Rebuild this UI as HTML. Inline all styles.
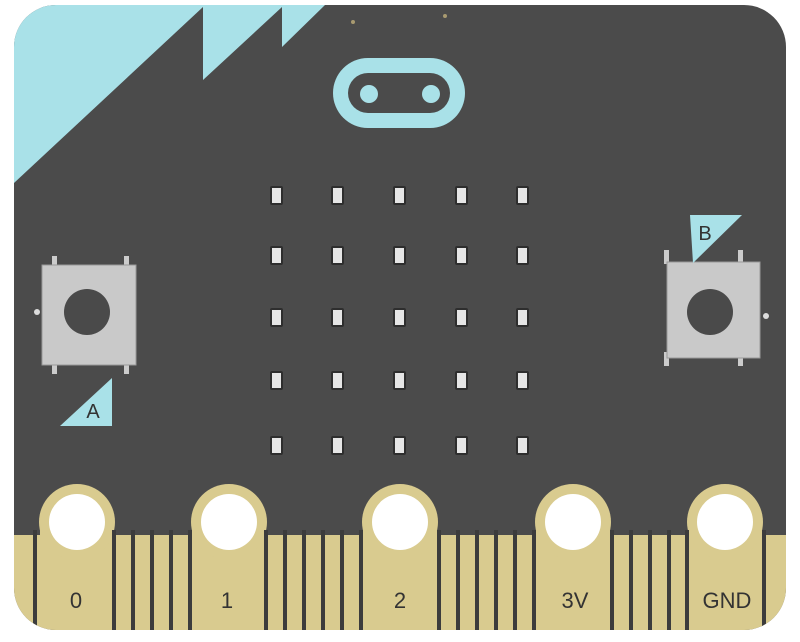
<!DOCTYPE html>
<html><head><style>
html,body{margin:0;padding:0;background:#fff;}
svg{display:block;}
text{font-family:"Liberation Sans",sans-serif;}
</style></head><body>
<svg width="800" height="642" viewBox="0 0 800 642" xmlns="http://www.w3.org/2000/svg">
<defs>
<clipPath id="b"><rect x="14" y="5" width="772" height="625" rx="42"/></clipPath>
</defs>
<g clip-path="url(#b)">
<rect x="0" y="0" width="800" height="642" fill="#4b4b4b"/>
<polygon points="0,0 340,0 325,5 282,47 282,7 203,80 203,7 14,183 0,200" fill="#a9e1e8"/>
<!-- gold connector -->
<rect x="14" y="535" width="772" height="100" fill="#d9cb8f"/>
<g fill="#d9cb8f">
<circle cx="77" cy="522" r="38"/><rect x="40" y="522" width="74" height="20"/>
<circle cx="229" cy="522" r="38"/><rect x="192" y="522" width="74" height="20"/>
<circle cx="400" cy="522" r="38"/><rect x="363" y="522" width="74" height="20"/>
<circle cx="573" cy="522" r="38"/><rect x="536" y="522" width="74" height="20"/>
<circle cx="725" cy="522" r="38"/><rect x="688" y="522" width="74" height="20"/>
</g>
<g stroke="#3c3c3c" stroke-width="4">
<line x1="35" y1="530" x2="35" y2="630"/>
<line x1="114" y1="530" x2="114" y2="630"/><line x1="133" y1="530" x2="133" y2="630"/><line x1="152" y1="530" x2="152" y2="630"/><line x1="171" y1="530" x2="171" y2="630"/><line x1="190" y1="530" x2="190" y2="630"/>
<line x1="266" y1="530" x2="266" y2="630"/><line x1="285" y1="530" x2="285" y2="630"/><line x1="304" y1="530" x2="304" y2="630"/><line x1="323" y1="530" x2="323" y2="630"/><line x1="342" y1="530" x2="342" y2="630"/><line x1="361" y1="530" x2="361" y2="630"/>
<line x1="439" y1="530" x2="439" y2="630"/><line x1="458" y1="530" x2="458" y2="630"/><line x1="477" y1="530" x2="477" y2="630"/><line x1="496" y1="530" x2="496" y2="630"/><line x1="515" y1="530" x2="515" y2="630"/><line x1="534" y1="530" x2="534" y2="630"/>
<line x1="612" y1="530" x2="612" y2="630"/><line x1="631" y1="530" x2="631" y2="630"/><line x1="650" y1="530" x2="650" y2="630"/><line x1="669" y1="530" x2="669" y2="630"/><line x1="687" y1="530" x2="687" y2="630"/>
<line x1="764" y1="530" x2="764" y2="630"/>
</g>
<g fill="#fff">
<circle cx="77" cy="522" r="28"/><circle cx="229" cy="522" r="28"/><circle cx="400" cy="522" r="28"/><circle cx="573" cy="522" r="28"/><circle cx="725" cy="522" r="28"/>
</g>
</g>
<g fill="#333" font-size="22" text-anchor="middle">
<text x="76" y="608">0</text><text x="227" y="608">1</text><text x="400" y="608">2</text><text x="575" y="608">3V</text><text x="727" y="608">GND</text>
</g>
<!-- logo -->
<rect x="333" y="58" width="132" height="70" rx="35" fill="#a9e1e8"/>
<rect x="348" y="73" width="102" height="40" rx="20" fill="#4b4b4b"/>
<circle cx="369" cy="94" r="9" fill="#a9e1e8"/><circle cx="431" cy="94" r="9" fill="#a9e1e8"/>
<circle cx="353" cy="22" r="2" fill="#a89a70"/><circle cx="445" cy="16" r="2" fill="#a89a70"/>
<!-- LEDs -->
<g fill="#e6e6e6" stroke="#2e2e2e" stroke-width="2">
<g id="r"><rect x="271" y="187" width="11" height="17" rx="1"/><rect x="332" y="187" width="11" height="17" rx="1"/><rect x="394" y="187" width="11" height="17" rx="1"/><rect x="456" y="187" width="11" height="17" rx="1"/><rect x="517" y="187" width="11" height="17" rx="1"/></g>
<use href="#r" y="60"/><use href="#r" y="122"/><use href="#r" y="185"/><use href="#r" y="250"/>
</g>
<!-- button A -->
<g>
<rect x="52" y="256" width="5" height="14" fill="#ccc"/><rect x="124" y="256" width="5" height="14" fill="#ccc"/>
<rect x="52" y="360" width="5" height="14" fill="#ccc"/><rect x="124" y="360" width="5" height="14" fill="#ccc"/>
<rect x="42" y="265" width="94" height="100" fill="#c9c9c9" stroke="#999"/>
<circle cx="87" cy="312" r="23" fill="#4a4a4a"/>
<circle cx="37" cy="312" r="3" fill="#ddd"/>
<polygon points="60,426 112,378 112,426" fill="#a9e1e8"/>
<text x="93" y="418" font-size="20" fill="#333" text-anchor="middle">A</text>
</g>
<!-- button B -->
<g>
<rect x="664" y="250" width="5" height="14" fill="#ccc"/><rect x="738" y="250" width="5" height="14" fill="#ccc"/>
<rect x="664" y="352" width="5" height="14" fill="#ccc"/><rect x="738" y="352" width="5" height="14" fill="#ccc"/>
<rect x="667" y="262" width="93" height="96" fill="#c9c9c9" stroke="#999"/>
<circle cx="710" cy="312" r="23" fill="#4a4a4a"/>
<circle cx="766" cy="316" r="3" fill="#ddd"/>
<polygon points="690,215 742,215 693,263" fill="#a9e1e8"/>
<text x="705" y="240" font-size="20" fill="#333" text-anchor="middle">B</text>
</g>
</svg>
</body></html>
